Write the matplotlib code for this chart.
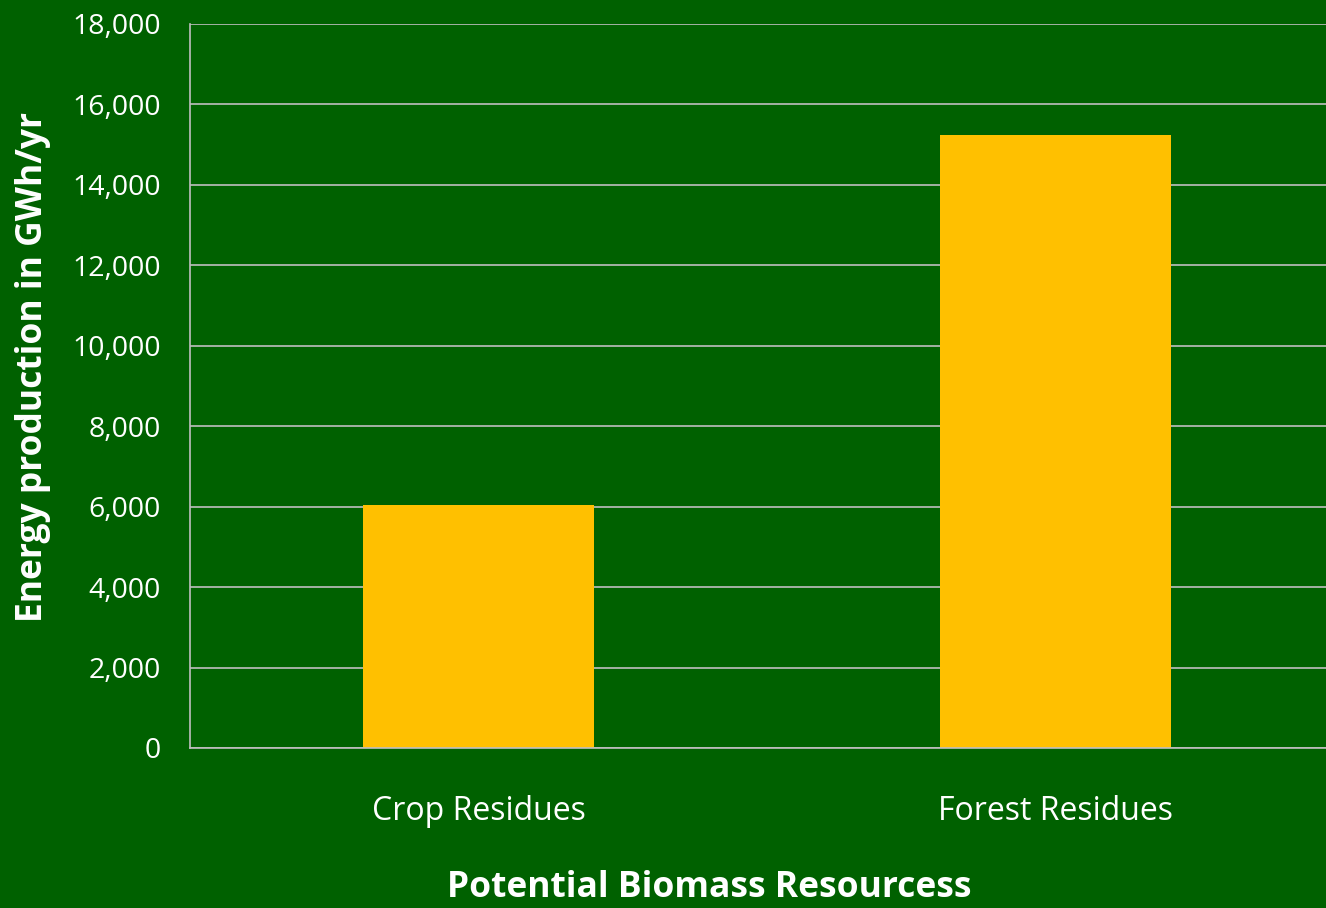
import matplotlib
matplotlib.use("Agg")
import matplotlib.pyplot as plt

categories = ["Crop Residues", "Forest Residues"]
values = [6050, 15250]
yticks = [0, 2000, 4000, 6000, 8000, 10000, 12000, 14000, 16000, 18000]

BG = "#006100"
BAR = "#FFC000"
GRID = "#BFBFBF"
FONT = ["Open Sans", "DejaVu Sans"]

W, H = 1326, 908
fig = plt.figure(figsize=(W / 100, H / 100), dpi=100, facecolor=BG)
ax = fig.add_axes([190 / W, 1 - 748 / H, 1154 / W, 724 / H])
ax.set_facecolor(BG)

x = list(range(len(categories)))
ax.bar(x, values, width=0.4, color=BAR, zorder=3)
ax.set_xlim(-0.5, len(categories) - 0.5)
ax.set_ylim(0, 18000)
ax.set_yticks(yticks)
ax.set_yticklabels([f"{v:,}" for v in yticks], fontfamily=FONT, fontsize=20.5, color="white")
ax.set_xticks(x)
ax.set_xticklabels(categories, fontfamily=FONT, fontsize=23, color="white")
ax.tick_params(axis="both", length=0)
ax.tick_params(axis="y", pad=21)
ax.tick_params(axis="x", pad=34)
ax.grid(axis="y", color=GRID, linewidth=1.2, zorder=0)
for s in ["top", "right"]:
    ax.spines[s].set_visible(False)
for s in ["left", "bottom"]:
    ax.spines[s].set_color(GRID)
    ax.spines[s].set_linewidth(1.2)
    ax.spines[s].set_zorder(4)

fig.text(33 / W, 1 - 367 / H, "Energy production in GWh/yr", rotation=90,
         ha="center", va="center", fontfamily=FONT, fontsize=25.5,
         fontweight="bold", color="white")
fig.text(709 / W, 1 - 897 / H, "Potential Biomass Resourcess", ha="center",
         va="baseline", fontfamily=FONT, fontsize=25.5, fontweight="bold", color="white")

fig.savefig("out.png", dpi=100, facecolor=BG)
